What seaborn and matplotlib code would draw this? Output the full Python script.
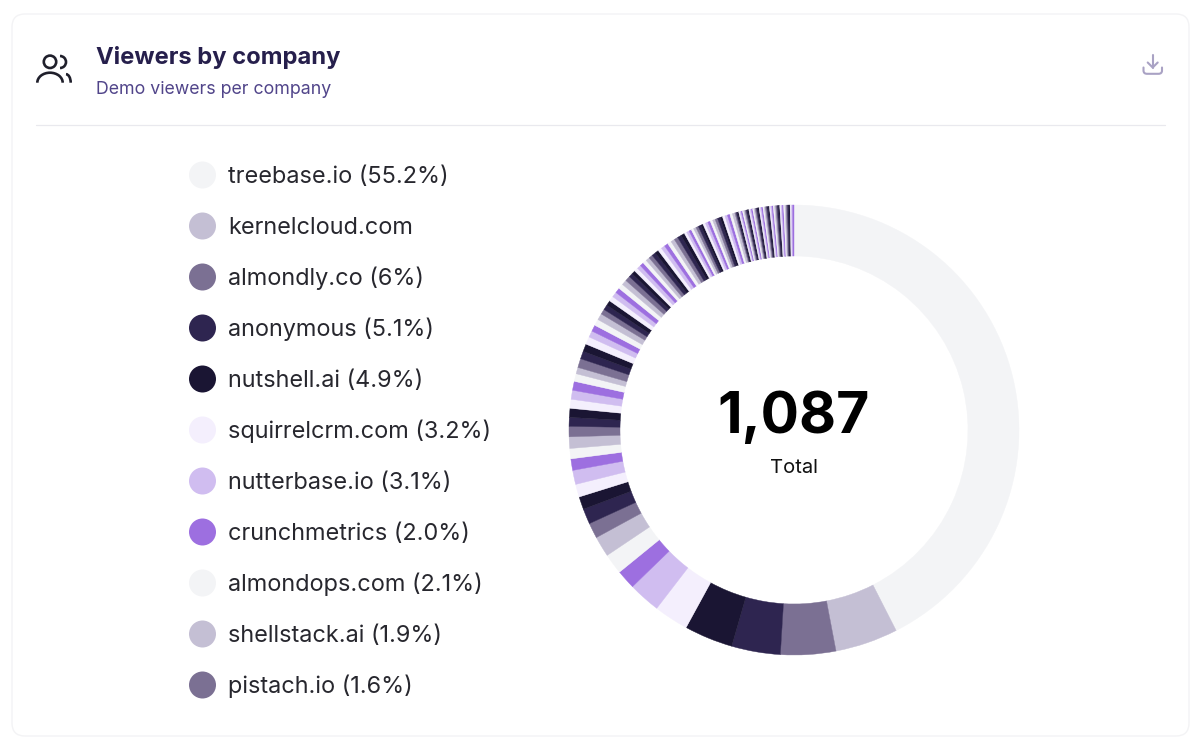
import matplotlib
matplotlib.use('Agg')
import matplotlib.pyplot as plt
from matplotlib.patches import FancyBboxPatch, Circle, Arc, PathPatch
from matplotlib.path import Path
import seaborn as sns

# legend rows as printed on the card
legend_labels = ["treebase.io (55.2%)", "kernelcloud.com", "almondly.co (6%)", "anonymous (5.1%)",
                 "nutshell.ai (4.9%)", "squirrelcrm.com (3.2%)", "nutterbase.io (3.1%)",
                 "crunchmetrics (2.0%)", "almondops.com (2.1%)", "shellstack.ai (1.9%)", "pistach.io (1.6%)"]
ring_colors = ["#f3f4f6", "#c4bfd4", "#7b7093", "#2e2550", "#1a1533", "#f4effd", "#d0bdf0", "#9d6fe0"]

# viewers per company, read from the ring (clockwise from the top)
viewers = [462, 49, 43, 38, 38, 27, 25, 15, 16, 16, 12, 12, 10, 10, 11, 9,
           8, 9, 8, 7, 7, 7, 7, 7, 6, 5, 7, 6, 6,
           6, 5, 5, 5, 5, 4, 4, 4,
           4, 4, 4, 4, 4, 4, 3, 3,
           3, 3, 3, 3, 3, 3, 3, 3,
           3, 3, 3, 3, 3, 3, 3, 3,
           2, 2, 2, 2, 2, 2, 2, 2,
           2, 2, 2, 2, 2, 2, 2, 2,
           2, 2, 2, 2, 2, 1, 1, 1,
           1, 1, 1, 1, 1, 1, 1, 1,
           1, 1, 1, 1, 1, 1, 1, 1,
           1, 1, 1, 1, 1, 1, 1, 1,
           1, 1, 1, 1, 1, 1, 1, 1,
           1, 1, 1, 1, 1, 1, 1, 1,
           1, 1, 1]
total_label = "1,087"

sns.set_theme(style='white')
plt.rcParams['font.family'] = ['Inter', 'DejaVu Sans']

W, H = 1204, 750
fig = plt.figure(figsize=(W / 100, H / 100), dpi=100, facecolor='white')

# full page axes in pixels for the card, header and icons
bg = fig.add_axes([0, 0, 1, 1])
bg.set_xlim(0, W)
bg.set_ylim(H, 0)
bg.axis('off')
bg.add_patch(FancyBboxPatch((12, 14), 1177, 722, boxstyle='round,pad=0,rounding_size=13',
                            fc='white', ec='#f3f3f5', lw=1.0))
bg.plot([36, 1165], [125, 125], color='#e9e9ee', lw=0.9)
bg.text(96, 64, "Viewers by company", fontsize=17.1, fontweight='bold', color='#261f4c', va='baseline', ha='left')
bg.text(96, 94, "Demo viewers per company", fontsize=12.8, color='#51458a', va='baseline', ha='left')

# users icon
bg.add_patch(Circle((50, 61.8), 6.2, fc='none', ec='#1f1f2b', lw=1.9))
bg.add_patch(Arc((50, 82.7), 25.4, 20, theta1=180, theta2=360, ec='#1f1f2b', lw=1.9))
bg.add_patch(Arc((60, 62), 12, 12, theta1=-90, theta2=90, ec='#1f1f2b', lw=1.9))
bg.add_patch(Arc((66, 82.7), 9.4, 17, theta1=270, theta2=360, ec='#1f1f2b', lw=1.9))

# download icon
dl = dict(color='#a9a2c4', lw=1.5, solid_capstyle='round')
bg.plot([1152.7, 1152.7], [55, 67.5], **dl)
bg.plot([1147.7, 1152.7, 1157.7], [62.5, 67.5, 62.5], **dl)
tray = Path([(1143.5, 67.5), (1143.5, 70.5), (1143.5, 73.8), (1147, 73.8), (1158.5, 73.8),
             (1162, 73.8), (1162, 70.5), (1162, 67.5)],
            [Path.MOVETO, Path.LINETO, Path.CURVE3, Path.CURVE3, Path.LINETO,
             Path.CURVE3, Path.CURVE3, Path.LINETO])
bg.add_patch(PathPatch(tray, fc='none', ec='#a9a2c4', lw=1.5, capstyle='round'))

# donut, thin same colour edge so the small wedges have no white seams
palette = sns.color_palette(ring_colors, n_colors=len(viewers))
ax = fig.add_axes([569 / W, (H - 655) / H, 450 / W, 450 / H])
wedges, _ = ax.pie(viewers, colors=palette, startangle=90, counterclock=False, radius=1,
                   wedgeprops=dict(width=51 / 225))
for w in wedges:
    w.set_edgecolor(w.get_facecolor())
    w.set_linewidth(0.3)
ax.set_xlim(-1, 1)
ax.set_ylim(-1, 1)
ax.text(0, -0.013, total_label, fontsize=41, fontweight='bold', color='black', ha='center', va='baseline')
ax.text(0, -0.191, "Total", fontsize=14.5, color='#111111', ha='center', va='baseline')

# legend: one row every 51 px, dots drawn by seaborn
rows = list(range(len(legend_labels)))
lg = fig.add_axes([189 / W, (H - 710.5) / H, 300 / W, 561 / H])
sns.scatterplot(x=[0] * len(rows), y=rows, hue=legend_labels, palette=palette[:len(rows)],
                hue_order=legend_labels, s=378, linewidth=0, legend=False, ax=lg, clip_on=False)
lg.set_xlim(-13.5, 286.5)
lg.set_ylim(len(rows) - 0.5, -0.5)
lg.axis('off')
for r, lab in zip(rows, legend_labels):
    lg.text(25.5, r + 0.157, lab, fontsize=16.9, color='#27272e', va='baseline', ha='left')

fig.savefig('out.png', dpi=100)
